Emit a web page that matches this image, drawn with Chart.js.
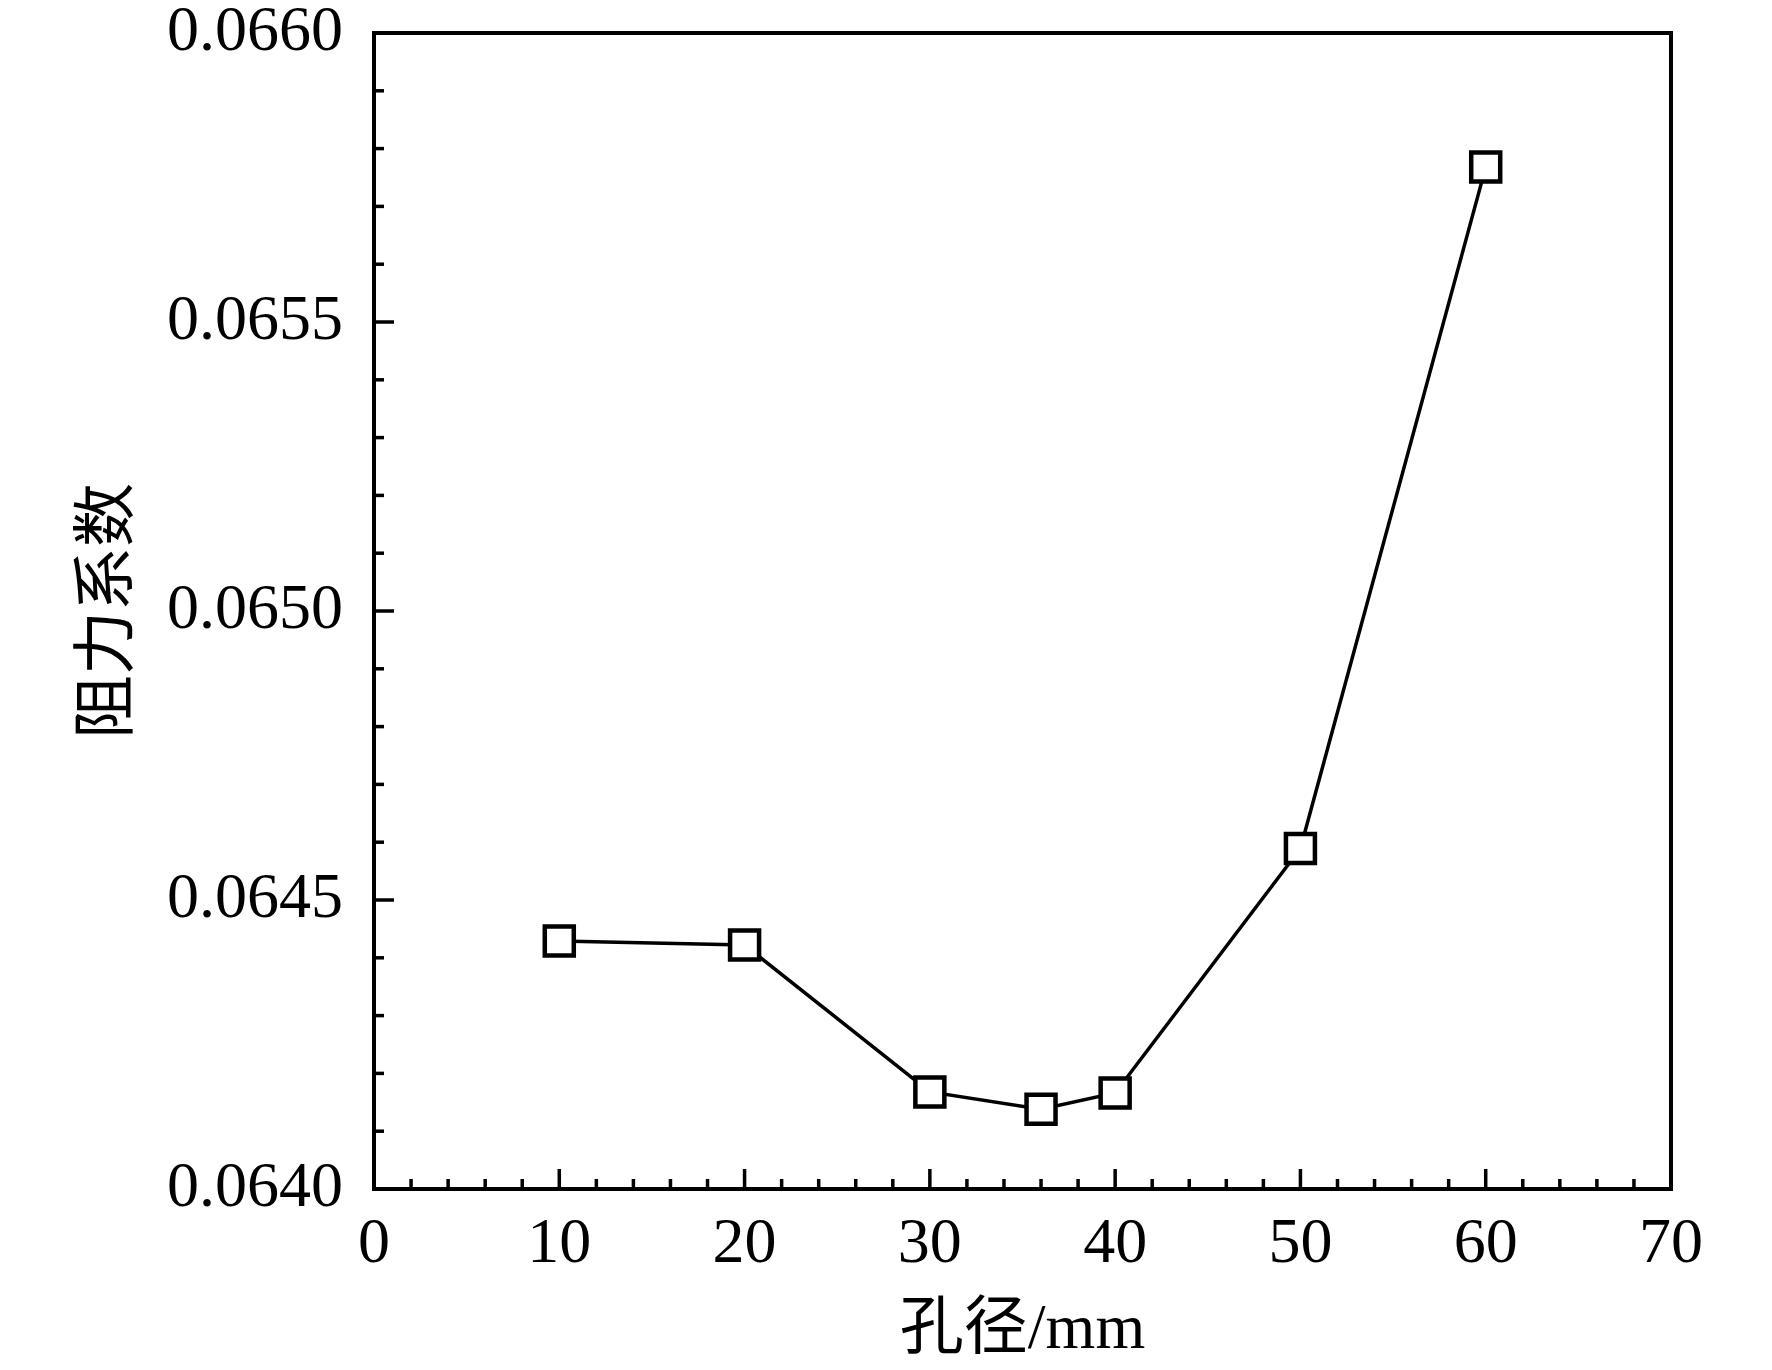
<!DOCTYPE html>
<html>
<head>
<meta charset="utf-8">
<script src="https://cdn.jsdelivr.net/npm/chart.js@4.4.1/dist/chart.umd.min.js"></script>
<style>
  html, body { margin: 0; padding: 0; background: #fff; }
  #wrap { width: 1772px; height: 1370px; }
</style>
</head>
<body>
<div id="wrap"><canvas id="chart" width="1772" height="1370"></canvas></div>
<script>
'use strict';

// ─────────────────────────────────────────────
// DATA
// ─────────────────────────────────────────────

const poreDiameter = [10, 20, 30, 36, 40, 50, 60];            // 孔径/mm
const dragCoef     = [0.064429, 0.064422, 0.064168, 0.064138,
                      0.064166, 0.064589, 0.065768];          // 阻力系数
const xTickLabels  = [0, 10, 20, 30, 40, 50, 60, 70];
const yTickLabels  = ['0.0640', '0.0645', '0.0650', '0.0655', '0.0660'];

const X_TITLE = '孔径/mm';
const Y_TITLE = '阻力系数';

const LATIN = "'Liberation Serif', 'Times New Roman', serif";
const MIXED = "'Liberation Serif', 'Noto Sans CJK SC', serif";

// ─────────────────────────────────────────────
// PLUGIN: frame + inward ticks
// ─────────────────────────────────────────────

const frameTicks = {
  id: 'frameTicks',
  beforeDatasetsDraw(chart) {
    const { ctx, chartArea: a, scales: { x, y } } = chart;
    ctx.save();
    ctx.strokeStyle = '#000';
    ctx.lineCap = 'butt';

    ctx.lineWidth = 3.5;
    x.ticks.forEach(t => {
      if (t.value <= x.min || t.value >= x.max) return;
      const px = x.getPixelForValue(t.value);
      const len = xTickLabels.includes(t.value) ? 20 : 10;
      ctx.beginPath();
      ctx.moveTo(px, a.bottom);
      ctx.lineTo(px, a.bottom - len);
      ctx.stroke();
    });
    y.ticks.forEach(t => {
      if (t.value <= y.min + 1e-9 || t.value >= y.max - 1e-9) return;
      const py = y.getPixelForValue(t.value);
      const len = isMajorY(t.value) ? 20 : 10;
      ctx.beginPath();
      ctx.moveTo(a.left, py);
      ctx.lineTo(a.left + len, py);
      ctx.stroke();
    });

    ctx.lineWidth = 4;
    ctx.strokeRect(a.left, a.top, a.right - a.left, a.bottom - a.top);
    ctx.restore();
  }
};

function isMajorY(v) {
  return yTickLabels.some(l => Math.abs(parseFloat(l) - v) < 1e-8);
}

// ─────────────────────────────────────────────
// CHART
// ─────────────────────────────────────────────

new Chart(document.getElementById('chart').getContext('2d'), {
  type: 'line',
  data: {
    datasets: [{
      data: poreDiameter.map((d, i) => ({ x: d, y: dragCoef[i] })),
      borderColor: '#000',
      borderWidth: 3.5,
      pointStyle: 'rect',
      pointRadius: 20.5,
      pointBorderWidth: 4.5,
      pointBackgroundColor: '#fff',
      pointBorderColor: '#000',
      tension: 0,
    }]
  },
  options: {
    responsive: false,
    devicePixelRatio: 1,
    animation: false,
    layout: { padding: { left: 0, top: 33, right: 101, bottom: 0 } },
    plugins: {
      legend: { display: false },
      tooltip: { enabled: false },
    },
    scales: {
      x: {
        type: 'linear',
        min: 0,
        max: 70,
        grid: { display: false },
        border: { display: false },
        ticks: {
          stepSize: 2,
          autoSkip: false,
          maxRotation: 0,
          padding: 10,
          color: '#000',
          font: { family: LATIN, size: 64 },
          callback: v => xTickLabels.includes(v) ? String(v) : '',
        },
        title: {
          display: true,
          text: X_TITLE,
          color: '#000',
          font: { family: MIXED, size: 64 },
          padding: { top: 0, bottom: 0 },
        },
        afterFit(scale) {
          scale.height = 181;
          scale.paddingLeft = 0;
          scale.paddingRight = 0;
        },
      },
      y: {
        type: 'linear',
        min: 0.0640,
        max: 0.0660,
        grid: { display: false },
        border: { display: false },
        ticks: {
          stepSize: 0.0001,
          autoSkip: false,
          padding: 23,
          color: '#000',
          font: { family: LATIN, size: 64 },
          callback: v => {
            const hit = yTickLabels.find(l => Math.abs(parseFloat(l) - v) < 1e-8);
            return hit || '';
          },
        },
        title: {
          display: true,
          text: Y_TITLE,
          color: '#000',
          font: { family: MIXED, size: 64 },
          padding: { top: 72, bottom: 0 },
        },
        afterFit(scale) {
          scale.width = 374;
          scale.paddingTop = 0;
          scale.paddingBottom = 0;
        },
      },
    },
  },
  plugins: [frameTicks],
});
</script>
</body>
</html>
